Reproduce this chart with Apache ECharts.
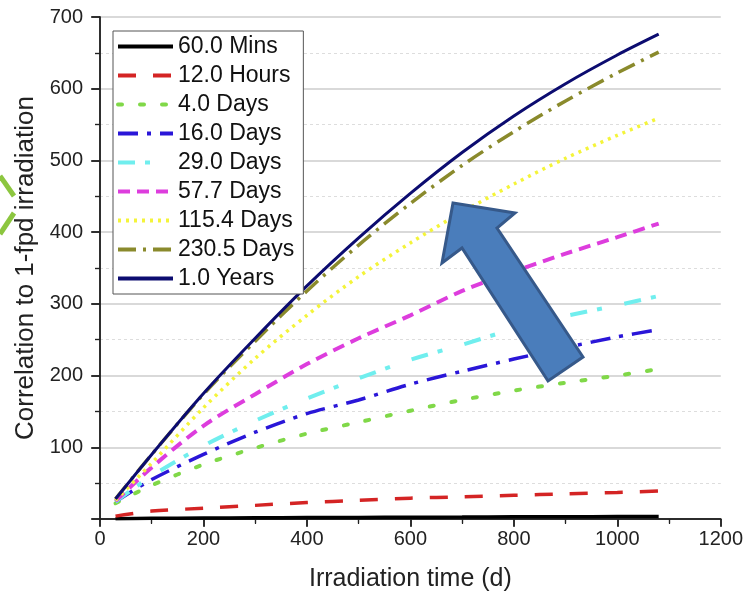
<!DOCTYPE html>
<html>
<head>
<meta charset="utf-8">
<script src="https://cdn.jsdelivr.net/npm/echarts@6/dist/echarts.min.js"></script>
<style>
html,body{margin:0;padding:0;background:#fff;}
#chart{width:746px;height:597px;}
</style>
</head>
<body>
<div id="chart"></div>
<script>
// ---- data ----
const days = [30, 100, 200, 300, 400, 500, 600, 700, 800, 900, 1000, 1080];
const seriesNames = ['60.0 Mins', '12.0 Hours', '4.0 Days', '16.0 Days', '29.0 Days', '57.7 Days', '115.4 Days', '230.5 Days', '1.0 Years'];
const v60Mins   = [0.5, 1, 1.3, 1.7, 2, 2.2, 2.5, 2.7, 3, 3.2, 3.4, 3.6];
const v12Hours  = [4, 11, 15, 19, 23, 26, 29, 31, 33, 35, 37, 39];
const v4Days    = [22, 47, 76, 99, 119, 135, 151, 166, 179, 190, 200, 209];
const v16Days   = [24, 55, 90, 121, 147, 166, 188, 206, 223, 239, 254, 264];
const v29Days   = [24, 60, 102, 137, 168, 196, 222, 243, 265, 283, 298, 311];
const v57Days   = [25, 72, 130, 174, 216, 252, 284, 318, 345, 370, 393, 412];
const v115Days  = [26, 78, 155, 224, 284, 338, 385, 428, 467, 503, 535, 559];
const v230Days  = [28, 90, 174, 248, 318, 382, 440, 493, 540, 583, 622, 651];
const v1Year    = [28, 90, 175, 252, 325, 392, 454, 511, 562, 607, 647, 676];
const xTicks = [0, 200, 400, 600, 800, 1000, 1200];
const yTicks = [100, 200, 300, 400, 500, 600, 700];

const allValues = [v60Mins, v12Hours, v4Days, v16Days, v29Days, v57Days, v115Days, v230Days, v1Year];
const styles = [
  {color:'#000000', width:3.5, type:'solid'},
  {color:'#d42424', width:3.5, type:[18,17]},
  {color:'#80d848', width:4, type:[4,18], cap:'round'},
  {color:'#2a16d8', width:3.5, type:[20,9,4,9]},
  {color:'#70eeee', width:4, type:[17,10,5,23]},
  {color:'#dd3ddd', width:4, type:[12,7]},
  {color:'#f4f43a', width:3.5, type:[3,5]},
  {color:'#8a8a2c', width:3.5, type:[18,7,3,7]},
  {color:'#0c0c70', width:3, type:'solid'}
];

const series = allValues.map((vals, i) => ({
  name: seriesNames[i],
  type: 'line',
  showSymbol: false,
  symbol: 'none',
  smooth: 0.3,
  data: days.map((d, j) => [d, vals[j]]),
  lineStyle: {color: styles[i].color, width: styles[i].width, type: styles[i].type, cap: styles[i].cap || 'butt'},
  itemStyle: {color: styles[i].color},
  z: 3 + i
}));

const font = 'Liberation Sans, Arial, sans-serif';
const chart = echarts.init(document.getElementById('chart'), null, {renderer: 'canvas'});
chart.setOption({
  animation: false,
  backgroundColor: '#ffffff',
  grid: {left: 100, right: 25, top: 17, bottom: 78, containLabel: false},
  legend: {
    orient: 'vertical',
    left: 113, top: 31,
    padding: [4, 9, 4, 3],
    itemWidth: 55, itemHeight: 14, itemGap: 6,
    backgroundColor: '#ffffff',
    borderColor: '#555', borderWidth: 1,
    itemStyle: {opacity: 0},
    lineStyle: {width: 4},
    textStyle: {fontFamily: font, fontSize: 23, color: '#111'},
    data: seriesNames,
    z: 20
  },
  xAxis: [{
    type: 'value', min: 0, max: 1200, interval: 200,
    name: 'Irradiation time (d)', nameLocation: 'middle', nameGap: 48,
    nameTextStyle: {fontFamily: font, fontSize: 25, color: '#222'},
    axisLine: {show: true, lineStyle: {color: '#222', width: 1.5}},
    axisTick: {show: true, inside: false, length: 8, lineStyle: {color: '#222', width: 1.5}},
    minorTick: {show: true, splitNumber: 2, length: 5, lineStyle: {color: '#222', width: 1.2}},
    axisLabel: {fontFamily: font, fontSize: 20, color: '#222', margin: 10,
      formatter: v => xTicks.includes(v) ? String(v) : ''},
    splitLine: {show: false}
  }, {
    type: 'value', min: 0, max: 1200, interval: 200, position: 'top',
    axisLine: {show: true, lineStyle: {color: '#222', width: 1.5}},
    axisTick: {show: true, inside: true, length: 7, lineStyle: {color: '#222', width: 1.5}},
    minorTick: {show: true, splitNumber: 2, length: 4, lineStyle: {color: '#222', width: 1.2}},
    axisLabel: {show: false}, splitLine: {show: false}
  }],
  yAxis: [{
    type: 'value', min: 0, max: 700, interval: 100,
    name: 'Correlation to 1-fpd irradiation', nameLocation: 'middle', nameGap: 61,
    nameTextStyle: {fontFamily: font, fontSize: 26, color: '#222'},
    axisLine: {show: true, lineStyle: {color: '#222', width: 1.5}},
    axisTick: {show: true, inside: false, length: 9, lineStyle: {color: '#222', width: 1.5}},
    minorTick: {show: true, splitNumber: 2, length: 5, lineStyle: {color: '#222', width: 1.2}},
    axisLabel: {fontFamily: font, fontSize: 20, color: '#222', margin: 17, showMinLabel: false,
      formatter: v => yTicks.includes(v) ? String(v) : ''},
    splitLine: {show: true, lineStyle: {color: '#cccccc', width: 1.5}},
    minorSplitLine: {show: true, lineStyle: {color: '#dddddd', width: 1, type: [3,3]}}
  }, {
    type: 'value', min: 0, max: 700, interval: 100, position: 'right',
    axisLine: {show: true, lineStyle: {color: '#222', width: 1.5}},
    axisTick: {show: true, inside: true, length: 8, lineStyle: {color: '#222', width: 1.5}},
    minorTick: {show: true, splitNumber: 2, length: 5, lineStyle: {color: '#222', width: 1.2}},
    axisLabel: {show: false}, splitLine: {show: false}
  }],
  series: series,
  graphic: [
    {type: 'polyline', shape: {points: [[0,176],[14,196]]}, style: {stroke: '#8cc63f', lineWidth: 5, fill: null}, z: 1},
    {type: 'polyline', shape: {points: [[14,213],[0,234]]}, style: {stroke: '#8cc63f', lineWidth: 5, fill: null}, z: 1},
    {
      type: 'polygon',
      shape: {points: [[453,203],[515,213],[497,228],[583,357],[548,381],[462,248],[442,263]]},
      style: {fill: '#4a7dbb', stroke: '#36598a', lineWidth: 3},
      z: 100
    }
  ]
});
</script>
</body>
</html>
